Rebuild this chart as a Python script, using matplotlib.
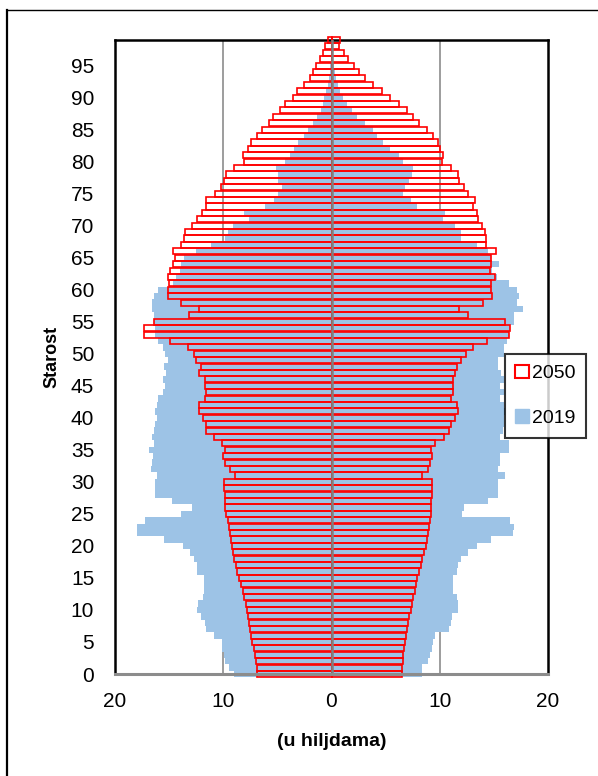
import matplotlib
matplotlib.use('Agg')
import matplotlib.pyplot as plt
from matplotlib.lines import Line2D
from matplotlib.patches import Patch
import numpy as np

plt.rcParams['font.family'] = ['Liberation Sans', 'DejaVu Sans']

# starosne grupe 0-99
starost = np.arange(0, 100)

# 2019 - lijeva strana (u hiljdama)
m2019 = [9.0, 9.5, 9.8, 9.9, 10.1, 10.1, 10.9, 11.6, 11.7, 12.1,
         12.4, 12.3, 11.9, 11.8, 11.8, 11.8, 12.4, 12.4, 12.7, 13.1,
         13.7, 15.5, 18.0, 18.0, 17.2, 13.9, 12.9, 14.7, 16.3, 16.3,
         16.3, 16.1, 16.7, 16.6, 16.5, 16.9, 16.4, 16.6, 16.4, 16.3,
         16.1, 16.3, 16.1, 16.0, 15.6, 15.4, 15.6, 15.3, 15.5, 15.1,
         15.4, 15.6, 16.0, 16.3, 16.3, 16.4, 16.4, 16.6, 16.6, 16.4,
         16.0, 14.6, 14.4, 14.0, 13.9, 13.6, 12.5, 11.1, 9.8, 9.6,
         9.1, 7.6, 8.1, 6.1, 5.3, 4.9, 4.6, 4.9, 4.9, 5.1,
         4.3, 3.8, 3.5, 3.1, 2.5, 2.2, 1.7, 1.3, 1.0, 0.8,
         0.65, 0.5, 0.34, 0.25, 0.18, 0.12, 0.08, 0.05, 0.03, 0.02]

# 2019 - desna strana
z2019 = [8.4, 8.4, 8.9, 9.1, 9.3, 9.4, 9.6, 10.9, 11.0, 11.1,
         11.7, 11.7, 11.6, 11.2, 11.2, 11.2, 11.6, 11.7, 12.0, 12.6,
         13.4, 14.7, 16.8, 16.9, 16.5, 12.1, 12.2, 14.5, 15.4, 15.4,
         15.4, 16.0, 15.4, 15.6, 15.6, 16.4, 16.4, 15.6, 15.8, 15.9,
         15.9, 16.0, 15.9, 15.6, 15.9, 15.6, 15.9, 15.7, 15.4, 15.4,
         15.9, 15.9, 16.2, 16.4, 16.5, 16.9, 16.9, 17.7, 17.1, 17.3,
         17.1, 16.4, 15.3, 14.8, 15.5, 14.7, 14.5, 13.4, 12.0, 12.0,
         11.4, 10.3, 10.5, 7.9, 7.3, 6.6, 6.8, 7.2, 7.4, 7.5,
         6.6, 6.2, 5.4, 4.8, 4.2, 3.8, 3.1, 2.4, 1.9, 1.45,
         1.05, 0.8, 0.62, 0.43, 0.3, 0.2, 0.14, 0.09, 0.05, 0.03]

# 2050 - lijeva strana
m2050 = [6.9, 6.9, 7.0, 7.1, 7.2, 7.3, 7.4, 7.5, 7.6, 7.7,
         7.8, 7.9, 8.1, 8.2, 8.4, 8.5, 8.7, 8.8, 9.0, 9.1,
         9.2, 9.3, 9.4, 9.5, 9.6, 9.7, 9.8, 9.8, 9.8, 9.9,
         9.9, 8.9, 9.4, 9.8, 10.0, 9.8, 10.1, 10.9, 11.6, 11.6,
         11.9, 12.2, 12.2, 11.7, 11.6, 11.7, 11.7, 12.2, 12.1, 12.5,
         12.7, 13.3, 14.9, 17.3, 17.3, 16.4, 13.2, 12.2, 13.9, 15.1,
         15.1, 15.0, 15.1, 14.9, 14.6, 14.5, 14.6, 13.9, 13.6, 13.5,
         12.9, 12.4, 12.0, 11.6, 11.6, 10.8, 10.2, 9.9, 9.7, 9.0,
         8.1, 8.2, 7.7, 7.4, 6.9, 6.4, 5.8, 5.4, 4.8, 4.3,
         3.6, 3.2, 2.5, 2.0, 1.7, 1.4, 1.05, 0.8, 0.56, 0.34]

# 2050 - desna strana
z2050 = [6.5, 6.5, 6.6, 6.6, 6.7, 6.8, 6.9, 7.0, 7.1, 7.2,
         7.3, 7.4, 7.5, 7.7, 7.8, 7.9, 8.1, 8.3, 8.4, 8.5,
         8.7, 8.8, 8.9, 9.0, 9.1, 9.2, 9.2, 9.2, 9.3, 9.3,
         9.3, 8.4, 8.9, 9.1, 9.3, 9.2, 9.6, 10.4, 10.9, 11.0,
         11.4, 11.7, 11.6, 11.0, 11.2, 11.2, 11.2, 11.4, 11.6, 12.0,
         12.4, 13.1, 14.4, 16.4, 16.5, 16.0, 12.6, 11.8, 14.0, 14.8,
         14.7, 14.7, 15.1, 14.6, 14.7, 14.7, 15.2, 14.3, 14.3, 14.2,
         13.9, 13.5, 13.4, 13.1, 13.3, 12.6, 12.2, 11.8, 11.7, 11.0,
         10.2, 10.3, 10.0, 9.8, 9.4, 8.8, 8.1, 7.5, 7.0, 6.2,
         5.4, 4.7, 3.8, 3.1, 2.5, 2.1, 1.55, 1.2, 0.68, 0.74]

plava = '#9DC3E6'
crvena = '#FF0000'

fig = plt.figure(figsize=(5.98, 7.76), dpi=100)
ax = fig.add_axes([115/598, 1 - 674/776, 433/598, 634/776])

# 2019 - puni stubici
ax.barh(starost, -np.array(m2019), height=1.0, color=plava, zorder=2, clip_on=False)
ax.barh(starost, z2019, height=1.0, color=plava, zorder=2, clip_on=False)

# 2050 - samo crveni okvir
ax.barh(starost, -np.array(m2050), height=0.95, facecolor='none', edgecolor=crvena,
        linewidth=1.2, zorder=3, clip_on=False)
ax.barh(starost, z2050, height=0.95, facecolor='none', edgecolor=crvena,
        linewidth=1.2, zorder=3, clip_on=False)

ax.set_xlim(-20, 20)
ax.set_ylim(0, 99)

# mreza i vertikalna osa
for g in [-10, 10]:
    ax.axvline(g, color='#8C8C8C', linewidth=1.2, zorder=1)
ax.axvline(0, color='#808080', linewidth=1.8, zorder=4)

ax.set_xticks([-20, -10, 0, 10, 20])
ax.set_xticklabels(['20', '10', '0', '10', '20'])
ax.set_yticks(np.arange(0, 100, 5))
ax.tick_params(axis='both', length=0, labelsize=15)
ax.tick_params(axis='y', pad=15)
ax.tick_params(axis='x', pad=13)

for s in ['left', 'top', 'right']:
    ax.spines[s].set_color('black')
    ax.spines[s].set_linewidth(1.8)
ax.spines['bottom'].set_color('#8C8C8C')
ax.spines['bottom'].set_linewidth(2.2)
ax.spines['bottom'].set_zorder(5)

ax.set_ylabel('Starost', fontsize=13, fontweight='bold')
ax.yaxis.set_label_coords(-0.127, 0.5)
ax.set_xlabel('(u hiljdama)', fontsize=14, fontweight='bold')
ax.xaxis.set_label_coords(0.5, -0.093)

# legenda
rucke = [Patch(facecolor='white', edgecolor=crvena, linewidth=1.5, label='2050'),
         Patch(facecolor=plava, edgecolor=plava, label='2019')]
leg = ax.legend(handles=rucke, loc='upper left', bbox_to_anchor=(0.9, 0.505),
                fontsize=14, frameon=True, fancybox=False, borderpad=0.55,
                handlelength=0.7, handleheight=0.7, handletextpad=0.15,
                labelspacing=1.4, borderaxespad=0)
leg.get_frame().set_edgecolor('black')
leg.get_frame().set_linewidth(1.5)
leg.set_zorder(10)

# okvir slike
fig.add_artist(Line2D([7/598, 1.0], [1 - 10/776, 1 - 10/776], color='black', linewidth=1.0))
fig.add_artist(Line2D([7/598, 7/598], [0, 1 - 10/776], color='black', linewidth=1.6))

fig.savefig('out.png', dpi=100)
